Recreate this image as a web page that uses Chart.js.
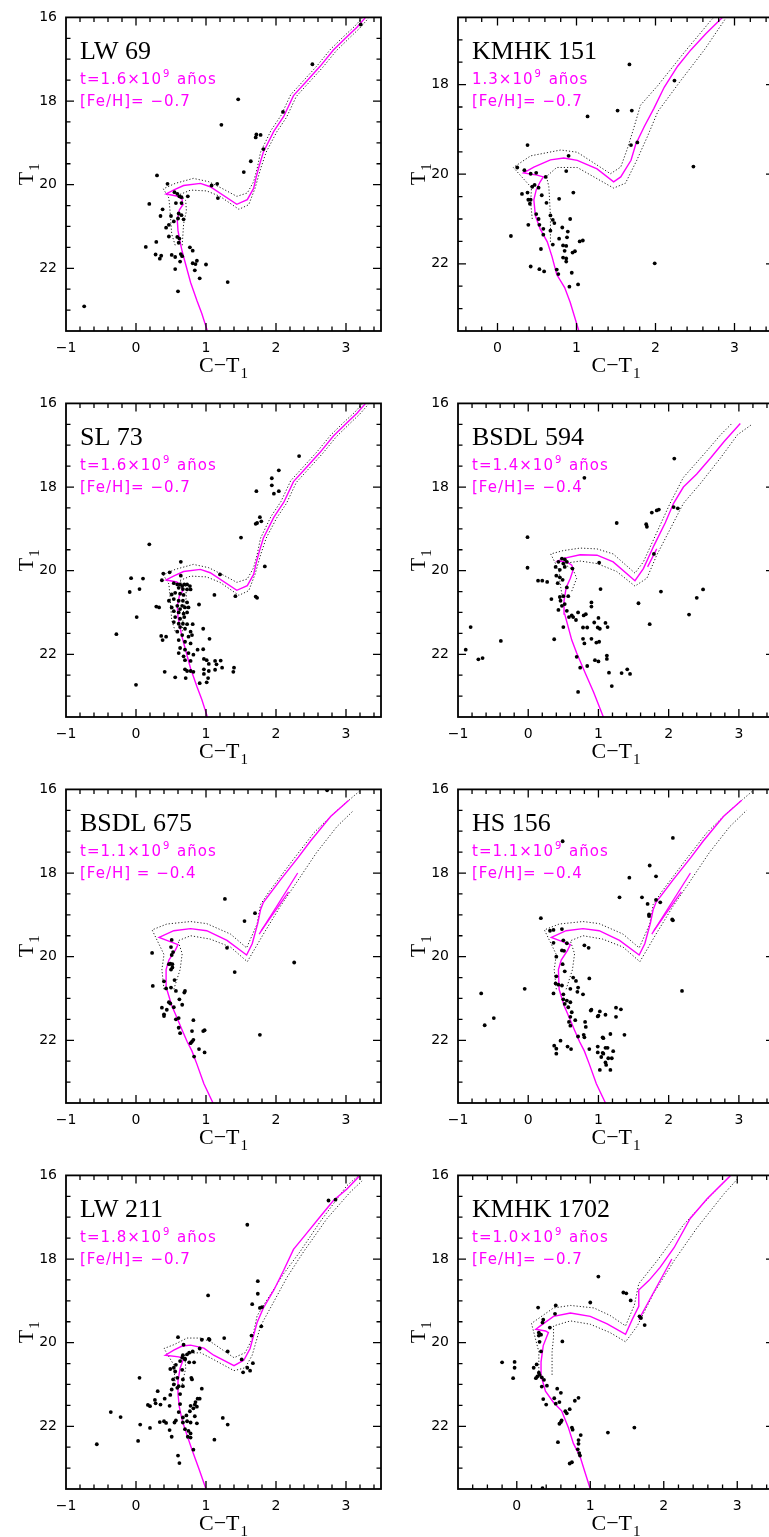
<!DOCTYPE html>
<html><head><meta charset="utf-8">
<script src="https://cdn.jsdelivr.net/npm/chart.js@4.4.1/dist/chart.umd.min.js"></script>
<style>
html,body{margin:0;padding:0;background:#fff;overflow:hidden;width:769px;height:1537px;position:relative}
canvas{position:absolute}
</style></head><body>
<script>
// ---------- observed stars (C-T1, T1) ----------
const lw69Stars = [[3.21,16.17],[2.52,17.12],[1.46,17.96],[2.10,18.26],[1.22,18.57],[1.72,18.80],[1.78,18.81],[1.71,18.87],[1.82,19.15],[1.64,19.44],[1.54,19.70],[0.30,19.78],[1.16,19.98],[1.08,20.02],[1.17,20.32],[0.45,19.98],[0.19,20.46],[0.55,20.18],[0.59,20.22],[0.62,20.28],[0.65,20.30],[0.74,20.28],[0.57,20.44],[0.65,20.44],[0.38,20.59],[0.50,20.75],[0.35,20.75],[0.61,20.69],[0.65,20.73],[0.60,20.81],[0.68,20.83],[0.54,20.88],[0.47,20.96],[0.43,21.03],[0.47,21.24],[0.59,21.25],[0.62,21.29],[0.61,21.39],[0.29,21.37],[0.14,21.49],[0.77,21.50],[0.81,21.58],[0.28,21.67],[0.36,21.70],[0.34,21.77],[0.51,21.68],[0.56,21.73],[0.64,21.66],[0.66,21.71],[0.63,21.84],[0.81,21.88],[0.85,21.90],[0.87,21.82],[1.00,21.91],[0.56,22.02],[0.84,22.05],[0.91,22.24],[1.31,22.33],[0.60,22.55],[-0.74,22.91]];
const kmhk151Stars = [[1.67,17.55],[2.24,17.91],[1.14,18.71],[1.52,18.58],[1.70,18.58],[0.38,19.35],[1.69,19.35],[1.77,19.29],[0.90,19.59],[2.48,19.83],[0.25,19.85],[0.34,19.91],[0.87,19.93],[0.42,19.99],[0.49,19.97],[0.61,20.06],[0.44,20.28],[0.47,20.24],[0.52,20.30],[0.31,20.44],[0.38,20.41],[0.96,20.41],[0.39,20.57],[0.42,20.57],[0.56,20.47],[0.41,20.66],[0.62,20.64],[0.78,20.55],[0.49,20.89],[0.52,21.00],[0.67,20.92],[0.70,21.02],[0.72,21.09],[0.92,21.00],[0.39,21.13],[0.53,21.13],[0.58,21.22],[0.67,21.26],[0.82,21.19],[0.89,21.28],[0.17,21.38],[0.58,21.35],[0.78,21.44],[0.88,21.41],[0.70,21.57],[0.83,21.59],[0.87,21.60],[1.04,21.50],[1.08,21.48],[0.55,21.67],[0.85,21.71],[0.95,21.75],[0.98,21.72],[0.83,21.86],[0.87,21.88],[0.87,21.95],[1.99,21.99],[0.42,22.06],[0.53,22.12],[0.59,22.17],[0.75,22.13],[0.77,22.23],[0.94,22.20],[0.91,22.51],[1.02,22.46]];
const sl73Stars = [[2.33,17.26],[2.04,17.60],[1.94,17.79],[1.94,17.96],[1.97,18.16],[2.04,18.10],[1.72,18.10],[1.77,18.72],[1.79,18.82],[1.73,18.86],[1.71,18.88],[1.50,19.21],[0.19,19.37],[1.84,19.90],[0.64,19.79],[0.39,20.07],[0.48,20.04],[0.64,20.12],[1.20,20.09],[-0.07,20.18],[0.10,20.19],[0.37,20.23],[-0.09,20.51],[0.05,20.44],[1.12,20.58],[1.42,20.61],[1.71,20.62],[1.73,20.65],[0.54,20.30],[0.59,20.33],[0.63,20.33],[0.66,20.37],[0.69,20.33],[0.73,20.33],[0.77,20.37],[0.61,20.41],[0.67,20.44],[0.73,20.45],[0.78,20.45],[0.51,20.57],[0.56,20.53],[0.63,20.55],[0.68,20.58],[0.47,20.72],[0.54,20.68],[0.61,20.72],[0.67,20.72],[0.73,20.76],[0.66,20.84],[0.59,20.84],[0.51,20.88],[0.63,20.92],[0.70,20.88],[0.75,20.88],[0.54,20.97],[0.61,21.00],[0.68,21.03],[0.73,21.00],[0.90,20.81],[0.29,20.86],[0.33,20.88],[0.01,21.11],[0.56,21.11],[0.63,21.15],[0.69,21.11],[0.54,21.23],[0.61,21.27],[0.67,21.27],[0.73,21.28],[0.81,21.28],[0.63,21.35],[0.70,21.39],[0.59,21.46],[0.78,21.46],[0.96,21.39],[0.36,21.56],[0.43,21.58],[0.38,21.66],[0.66,21.54],[0.75,21.58],[0.80,21.54],[0.61,21.66],[0.70,21.70],[0.78,21.74],[1.05,21.63],[-0.28,21.52],[0.63,21.85],[0.70,21.89],[0.75,21.97],[0.82,22.01],[0.88,21.89],[0.96,21.88],[0.61,21.97],[0.68,22.05],[0.70,22.14],[0.78,22.16],[0.97,22.11],[1.01,22.14],[1.04,22.23],[1.13,22.16],[1.21,22.15],[1.15,22.24],[1.23,22.32],[0.70,22.36],[0.73,22.40],[0.78,22.40],[0.82,22.42],[0.97,22.36],[1.04,22.40],[1.13,22.37],[1.40,22.32],[1.39,22.42],[0.41,22.42],[0.56,22.55],[0.71,22.57],[0.97,22.47],[1.03,22.57],[0.91,22.69],[1.01,22.67],[0.00,22.73]];
const bsdl594Stars = [[2.08,17.32],[0.80,17.78],[1.76,18.61],[1.83,18.56],[1.86,18.54],[2.07,18.48],[2.13,18.51],[1.26,18.86],[1.68,18.89],[1.69,18.95],[-0.01,19.20],[1.79,19.60],[1.01,19.81],[-0.01,19.93],[0.48,19.71],[0.52,19.73],[0.43,19.79],[0.50,19.83],[0.55,19.79],[0.39,19.91],[0.52,19.91],[0.63,19.95],[0.45,19.98],[0.14,20.24],[0.20,20.24],[0.27,20.27],[0.40,20.12],[0.45,20.16],[0.49,20.22],[0.42,20.30],[1.03,20.44],[1.89,20.50],[2.49,20.45],[2.40,20.65],[0.55,20.40],[0.33,20.68],[0.45,20.63],[0.50,20.61],[0.57,20.61],[0.46,20.72],[0.52,20.80],[0.48,20.84],[0.43,20.94],[0.55,20.96],[0.62,21.07],[0.64,21.11],[0.58,21.11],[0.90,20.76],[0.90,20.86],[0.71,21.00],[0.79,21.07],[0.82,21.04],[0.68,21.18],[1.57,20.78],[2.29,21.05],[1.00,21.13],[0.94,21.24],[1.10,21.25],[1.13,21.35],[0.99,21.36],[1.02,21.39],[1.73,21.28],[0.50,21.35],[0.78,21.36],[0.84,21.36],[0.37,21.64],[0.78,21.63],[0.80,21.74],[0.90,21.63],[0.97,21.72],[1.01,21.70],[-0.39,21.68],[-0.82,21.35],[-0.89,21.89],[-0.71,22.12],[-0.65,22.09],[0.69,22.06],[0.74,22.32],[0.84,22.28],[0.95,22.14],[1.00,22.17],[1.12,22.03],[1.12,22.11],[1.15,22.44],[1.33,22.45],[1.41,22.36],[1.45,22.47],[1.19,22.76],[0.71,22.90]];
const bsdl675Stars = [[2.73,16.02],[1.27,18.62],[1.70,18.96],[1.55,19.15],[0.23,19.91],[1.30,19.79],[0.51,19.60],[0.50,19.77],[0.53,19.89],[0.51,19.96],[0.49,20.17],[0.47,20.18],[0.52,20.18],[0.50,20.31],[0.52,20.26],[1.41,20.37],[2.26,20.14],[0.24,20.70],[0.40,20.59],[0.55,20.56],[0.43,20.76],[0.50,20.74],[0.57,20.82],[0.70,20.82],[0.69,20.86],[0.62,21.02],[0.66,21.15],[0.47,21.09],[0.49,21.12],[0.37,21.22],[0.44,21.27],[0.40,21.38],[0.40,21.42],[0.54,21.21],[0.57,21.50],[0.61,21.47],[0.82,21.52],[0.61,21.70],[0.63,21.83],[0.80,21.78],[0.96,21.78],[0.98,21.76],[1.77,21.87],[0.78,22.07],[0.80,22.03],[0.82,21.99],[0.90,22.21],[0.98,22.29],[0.83,22.39]];
const hs156Stars = [[0.49,17.24],[2.06,17.16],[1.73,17.82],[1.44,18.11],[1.82,18.08],[1.30,18.58],[1.62,18.58],[1.82,18.64],[1.70,18.74],[1.88,18.70],[1.72,18.99],[1.72,19.03],[0.18,19.08],[2.05,19.11],[2.06,19.13],[0.31,19.38],[0.36,19.36],[0.48,19.34],[0.36,19.67],[0.80,19.73],[0.86,19.79],[0.50,19.61],[0.55,19.68],[0.48,19.85],[0.51,19.86],[0.40,20.00],[0.49,20.18],[0.52,20.35],[0.40,20.47],[0.39,20.64],[0.43,20.67],[0.48,20.69],[0.36,20.88],[0.50,20.90],[0.64,20.50],[0.68,20.58],[0.60,20.77],[0.71,20.74],[0.70,20.84],[0.78,20.90],[0.87,20.52],[-0.05,20.77],[-0.67,20.88],[-0.49,21.47],[-0.62,21.64],[2.19,20.82],[0.50,21.02],[0.55,21.05],[0.60,21.09],[0.52,21.13],[0.57,21.21],[0.62,21.33],[0.60,21.44],[0.58,21.56],[0.60,21.65],[0.67,21.52],[0.81,21.56],[0.82,21.68],[0.71,21.91],[0.79,21.87],[0.80,21.93],[0.90,21.27],[0.89,21.29],[1.02,21.31],[1.00,21.41],[0.99,21.43],[1.10,21.39],[1.25,21.22],[1.32,21.26],[1.25,21.44],[1.37,21.87],[1.06,21.93],[1.07,21.95],[1.17,21.85],[0.46,22.01],[0.37,22.13],[0.40,22.20],[0.40,22.32],[0.56,22.15],[0.61,22.21],[0.87,22.21],[0.99,22.15],[0.99,22.29],[1.06,22.30],[1.07,22.32],[1.10,22.18],[1.13,22.18],[1.04,22.40],[1.14,22.43],[1.19,22.43],[1.21,22.26],[1.10,22.53],[1.11,22.59],[1.02,22.71],[1.17,22.71]];
const lw211Stars = [[2.75,16.60],[2.85,16.58],[1.59,17.18],[1.74,18.53],[1.74,18.83],[1.03,18.87],[1.66,19.08],[1.77,19.17],[1.80,19.15],[1.79,19.61],[1.65,19.83],[0.60,19.87],[0.94,19.93],[1.04,19.91],[1.05,19.93],[1.26,19.89],[0.68,20.05],[1.31,20.21],[0.81,20.21],[0.76,20.24],[0.91,20.14],[0.67,20.30],[0.73,20.28],[0.66,20.36],[0.70,20.38],[0.63,20.44],[0.70,20.40],[0.76,20.47],[0.83,20.47],[0.57,20.53],[0.54,20.60],[0.49,20.63],[0.56,20.69],[0.66,20.65],[1.51,20.40],[1.53,20.71],[1.59,20.60],[1.63,20.67],[1.67,20.49],[0.05,20.84],[0.53,20.88],[0.59,20.84],[0.67,20.88],[0.54,21.00],[0.61,21.04],[0.67,21.04],[0.51,21.12],[0.59,21.08],[0.79,20.84],[0.80,20.88],[0.94,21.10],[0.31,21.16],[0.49,21.25],[0.63,21.23],[0.27,21.37],[0.41,21.34],[0.28,21.45],[0.17,21.49],[0.20,21.52],[0.35,21.48],[0.48,21.51],[0.63,21.47],[0.78,21.51],[0.84,21.48],[0.82,21.57],[0.88,21.34],[0.91,21.34],[0.85,21.42],[0.87,21.53],[0.77,21.64],[0.72,21.74],[0.61,21.66],[0.67,21.79],[0.84,21.76],[-0.36,21.66],[-0.22,21.78],[1.24,21.80],[1.31,21.96],[0.34,21.90],[0.40,21.88],[0.43,21.92],[0.55,21.91],[0.57,21.86],[0.67,21.91],[0.73,21.88],[0.78,21.91],[0.87,21.93],[0.06,21.96],[0.20,22.04],[0.48,22.09],[0.70,22.07],[0.75,22.11],[0.78,22.17],[0.51,22.25],[0.74,22.25],[0.78,22.27],[0.03,22.35],[1.12,22.32],[-0.56,22.43],[0.82,22.56],[0.60,22.70],[0.62,22.88]];
const kmhk1702Stars = [[1.11,18.42],[1.45,18.80],[1.49,18.82],[1.55,18.99],[1.00,19.04],[0.53,19.11],[0.29,19.16],[0.52,19.31],[1.67,19.37],[1.69,19.41],[0.36,19.45],[0.35,19.52],[1.74,19.58],[0.45,19.64],[0.30,19.76],[0.33,19.81],[0.30,19.83],[0.62,19.97],[0.31,19.98],[0.33,20.21],[-0.20,20.47],[-0.03,20.46],[-0.03,20.60],[-0.05,20.85],[0.23,20.60],[0.27,20.52],[0.30,20.72],[0.31,20.77],[0.28,20.81],[0.26,20.85],[0.34,20.83],[0.37,20.89],[0.41,21.03],[0.34,21.05],[0.55,21.10],[0.60,21.20],[0.51,21.33],[0.36,21.35],[0.40,21.48],[0.53,21.46],[0.58,21.42],[0.84,21.32],[0.79,21.39],[0.66,21.64],[0.68,21.69],[0.72,21.59],[0.58,21.94],[0.60,21.90],[0.61,21.86],[0.75,22.03],[0.76,22.08],[0.87,22.21],[0.84,22.33],[0.84,22.42],[0.83,22.55],[0.85,22.64],[0.86,22.70],[0.56,22.38],[1.24,22.15],[1.60,22.03],[0.72,22.89],[0.75,22.86],[0.35,23.48]];

// ---------- isochrones (magenta) and their dotted envelopes ----------
const iso16 = [[1.02,23.5],[0.94,23.08],[0.87,22.77],[0.78,22.34],[0.71,21.91],[0.66,21.6],[0.63,21.37],[0.60,21.1],[0.59,20.85],[0.62,20.6],[0.67,20.48],[0.66,20.35],[0.58,20.27],[0.43,20.22],[0.55,20.12],[0.68,20.02],[0.92,19.97],[1.06,20.05],[1.44,20.47],[1.59,20.36],[1.68,20.09],[1.72,19.8],[1.76,19.55],[1.82,19.22],[1.97,18.72],[2.11,18.37],[2.25,17.87],[2.44,17.52],[2.63,17.17],[2.82,16.78],[3.01,16.47],[3.16,16.23],[3.28,16.0]];
const envUp16 = [[0.56,21.45],[0.51,21.18],[0.49,20.71],[0.47,20.32],[0.39,20.10],[0.56,19.97],[0.82,19.85],[1.04,19.93],[1.23,20.09],[1.44,20.28],[1.59,20.20],[1.68,19.93],[1.73,19.62],[1.78,19.22],[1.93,18.70],[2.07,18.35],[2.21,17.85],[2.40,17.50],[2.59,17.15],[2.78,16.76],[2.97,16.45],[3.12,16.22],[3.24,16.0]];
const envLo16 = [[0.66,21.45],[0.68,20.94],[0.72,20.63],[0.71,20.38],[0.62,20.24],[0.78,20.13],[1.01,20.15],[1.20,20.28],[1.47,20.59],[1.61,20.48],[1.70,20.09],[1.78,19.62],[1.86,19.22],[2.01,18.74],[2.15,18.39],[2.29,17.89],[2.48,17.54],[2.67,17.19],[2.86,16.80],[3.05,16.49],[3.20,16.25],[3.32,16.02]];
const iso13 = [[1.03,23.5],[0.92,22.86],[0.85,22.53],[0.75,22.24],[0.69,21.84],[0.63,21.51],[0.54,21.22],[0.48,20.93],[0.46,20.57],[0.49,20.35],[0.54,20.17],[0.58,20.06],[0.50,20.02],[0.33,19.97],[0.46,19.84],[0.67,19.68],[0.84,19.64],[1.01,19.69],[1.26,19.88],[1.47,20.17],[1.56,20.06],[1.69,19.69],[1.75,19.33],[1.86,18.93],[1.98,18.53],[2.11,18.06],[2.28,17.59],[2.45,17.22],[2.64,16.86],[2.83,16.53],[2.92,16.38]];
const envUp13 = [[0.44,21.0],[0.42,20.64],[0.43,20.3],[0.20,19.85],[0.42,19.59],[0.80,19.46],[1.01,19.51],[1.43,19.99],[1.56,19.84],[1.64,19.45],[1.72,19.0],[1.81,18.46],[2.03,18.02],[2.36,17.29],[2.70,16.57],[2.75,16.48]];
const envLo13 = [[0.67,21.51],[0.67,20.93],[0.65,20.28],[0.62,20.05],[0.75,19.85],[1.01,19.85],[1.47,20.31],[1.62,20.20],[1.76,19.7],[1.90,19.15],[2.03,18.60],[2.32,17.91],[2.62,17.22],[2.87,16.57],[2.90,16.48]];
const iso14 = [[1.07,23.5],[0.93,22.90],[0.81,22.44],[0.69,21.97],[0.62,21.66],[0.57,21.35],[0.52,21.04],[0.51,20.72],[0.54,20.41],[0.60,20.18],[0.64,19.98],[0.62,19.87],[0.55,19.79],[0.42,19.77],[0.52,19.70],[0.74,19.62],[0.98,19.63],[1.21,19.79],[1.52,20.24],[1.64,19.95],[1.79,19.40],[1.95,18.86],[2.07,18.39],[2.21,18.0],[2.40,17.69],[2.60,17.30],[2.79,16.91],[3.02,16.48]];
const clump14 = [[1.70,19.91],[1.83,19.48]];
const envUp14 = [[0.48,20.57],[0.45,20.26],[0.44,20.0],[0.32,19.60],[0.50,19.52],[0.74,19.46],[0.98,19.48],[1.21,19.60],[1.52,20.06],[1.64,19.79],[1.83,19.09],[2.02,18.39],[2.21,17.77],[2.50,17.22],[2.74,16.75],[2.90,16.48]];
const envLo14 = [[0.62,20.49],[0.69,20.18],[0.64,19.98],[0.50,19.83],[0.74,19.77],[0.98,19.83],[1.26,20.02],[1.52,20.37],[1.69,20.18],[1.83,19.63],[2.02,19.01],[2.21,18.39],[2.45,17.92],[2.74,17.30],[2.98,16.75],[3.17,16.52]];
const iso11 = [[1.10,23.5],[0.97,23.04],[0.87,22.57],[0.80,22.26],[0.73,22.03],[0.66,21.76],[0.59,21.48],[0.51,21.17],[0.44,20.78],[0.43,20.31],[0.47,20.08],[0.56,19.85],[0.60,19.71],[0.44,19.61],[0.33,19.54],[0.54,19.38],[0.78,19.33],[1.01,19.38],[1.30,19.61],[1.58,19.96],[1.66,19.69],[1.74,19.20],[1.78,18.87],[1.82,18.70],[2.06,18.17],[2.32,17.62],[2.49,17.24],[2.78,16.65],[3.04,16.26]];
const clump11a = [[1.76,19.46],[2.31,18.0]];
const clump11b = [[1.79,19.38],[2.18,18.45]];
const envUp11 = [[0.40,20.78],[0.37,20.31],[0.40,19.95],[0.23,19.36],[0.44,19.22],[0.78,19.16],[1.01,19.21],[1.35,19.46],[1.58,19.79],[1.73,19.22],[1.78,18.75],[1.90,18.45],[2.25,17.67],[2.54,17.04],[2.82,16.58],[3.20,16.03]];
const envLo11 = [[0.54,20.78],[0.63,20.31],[0.66,19.93],[0.60,19.62],[0.78,19.50],[1.06,19.58],[1.35,19.77],[1.59,20.12],[1.82,19.46],[2.06,18.80],[2.30,18.21],[2.58,17.51],[2.87,16.89],[3.11,16.50]];
const iso18 = [[1.0,23.5],[0.90,23.02],[0.80,22.56],[0.72,22.17],[0.66,21.86],[0.62,21.55],[0.60,21.23],[0.60,20.92],[0.63,20.61],[0.68,20.38],[0.61,20.34],[0.42,20.30],[0.54,20.18],[0.66,20.08],[0.78,20.06],[0.97,20.13],[1.11,20.30],[1.40,20.55],[1.54,20.42],[1.63,20.14],[1.73,19.52],[1.82,19.17],[1.97,18.74],[2.11,18.27],[2.25,17.77],[2.44,17.38],[2.63,16.99],[2.82,16.60],[3.01,16.33],[3.20,16.0]];
const envUp18 = [[0.56,21.0],[0.54,20.53],[0.40,20.14],[0.54,20.05],[0.73,19.89],[0.92,19.89],[1.06,19.97],[1.40,20.36],[1.56,20.24],[1.66,19.91],[1.73,19.36],[1.87,18.98],[2.11,18.35],[2.35,17.81],[2.63,17.11],[3.01,16.25],[3.18,16.0]];
const envLo18 = [[0.66,21.0],[0.71,20.61],[0.70,20.34],[0.73,20.26],[0.92,20.24],[1.06,20.36],[1.40,20.67],[1.56,20.60],[1.66,20.30],[1.78,19.60],[1.92,19.17],[2.16,18.43],[2.40,17.81],[2.73,17.03],[3.06,16.40],[3.23,16.13]];
const iso10 = [[1.0,23.5],[0.93,23.11],[0.86,22.72],[0.77,22.41],[0.70,22.02],[0.61,21.63],[0.50,21.43],[0.39,21.16],[0.34,20.85],[0.33,20.46],[0.36,20.07],[0.43,19.76],[0.39,19.72],[0.26,19.68],[0.32,19.60],[0.50,19.37],[0.73,19.29],[1.0,19.37],[1.23,19.55],[1.48,19.80],[1.57,19.45],[1.66,19.13],[1.66,18.74],[1.80,18.51],[1.95,18.20],[2.14,17.73],[2.36,17.03],[2.59,16.56],[2.91,16.0]];
const clump10 = [[1.66,19.45],[2.11,18.0]];
const envUp10 = [[0.30,20.69],[0.30,20.22],[0.20,19.54],[0.50,19.17],[0.73,19.11],[1.05,19.17],[1.27,19.35],[1.48,19.60],[1.60,19.10],[1.66,18.59],[1.91,18.04],[2.27,17.18],[2.64,16.48],[2.91,16.0]];
const envLo10 = [[0.48,20.77],[0.48,20.22],[0.50,19.87],[0.50,19.60],[0.73,19.48],[1.0,19.56],[1.27,19.76],[1.48,19.98],[1.64,19.60],[1.86,18.82],[2.14,18.04],[2.45,17.26],[2.82,16.44],[3.0,16.09]];

// ---------- labels ----------
const clusterNames = ['LW 69','KMHK 151','SL 73','BSDL 594','BSDL 675','HS 156','LW 211','KMHK 1702'];
const ageLabels = ['t=1.6×10^9 años','1.3×10^9 años','t=1.6×10^9 años','t=1.4×10^9 años','t=1.1×10^9 años','t=1.1×10^9 años','t=1.8×10^9 años','t=1.0×10^9 años'];
const fehLabels = ['[Fe/H]= −0.7','[Fe/H]= −0.7','[Fe/H]= −0.7','[Fe/H]= −0.4','[Fe/H] = −0.4','[Fe/H]= −0.4','[Fe/H]= −0.7','[Fe/H]= −0.7'];
const xRanges = [[-1,3.5],[-0.5,3.5],[-1,3.5],[-1,3.5],[-1,3.5],[-1,3.5],[-1,3.5],[-0.8,3.5]];
const yRanges = [[16,23.5],[16.5,23.5],[16,23.5],[16,23.5],[16,23.5],[16,23.5],[16,23.5],[16,23.5]];
const starSets = [lw69Stars,kmhk151Stars,sl73Stars,bsdl594Stars,bsdl675Stars,hs156Stars,lw211Stars,kmhk1702Stars];
const isoSets = [iso16,iso13,iso16,iso14,iso11,iso11,iso18,iso10];
const upSets = [envUp16,envUp13,envUp16,envUp14,envUp11,envUp11,envUp18,envUp10];
const loSets = [envLo16,envLo13,envLo16,envLo14,envLo11,envLo11,envLo18,envLo10];
const extraSets = [[],[],[],[clump14],[clump11a,clump11b],[clump11a,clump11b],[],[clump10]];
const X_STEP = 0.2, Y_STEP = 0.5;

// ---------- layout ----------
const PLOT_TOPS = [10,396,782,1168];
const MAGENTA = '#ff00ff';

const isInt = v => Math.abs(v - Math.round(v)) < 1e-6;
const isEvenInt = v => isInt(v) && Math.round(v) % 2 === 0;
const fmtX = v => { const r = Math.round(v); return r < 0 ? '\u2212' + Math.abs(r) : String(r); };
const pts = arr => arr.map(([x,y]) => ({x,y}));
const stepTicks = step => s => {
  const out = [];
  const k0 = Math.ceil(s.min / step - 1e-6), k1 = Math.floor(s.max / step + 1e-6);
  for (let k = k0; k <= k1; k++) out.push({value: +(k * step).toFixed(4)});
  s.ticks = out;
};

function drawSub(ctx, main, sub, x, y, bigFont, smallFont) {
  ctx.font = bigFont; const w1 = ctx.measureText(main).width;
  ctx.font = smallFont; const w2 = ctx.measureText(sub).width;
  const sx = x - (w1 + w2 + 1) / 2;
  ctx.font = bigFont; ctx.fillText(main, sx, y);
  ctx.font = smallFont; ctx.fillText(sub, sx + w1 + 1, y + 6);
}

const framePlugin = {
  id: 'frame',
  afterDatasetsDraw(chart) {
    const {ctx, chartArea: a, scales: {x, y}} = chart;
    const idx = chart.options.plugins.frame.idx;
    ctx.save();
    ctx.strokeStyle = '#000';
    ctx.lineWidth = 1.3;
    ctx.beginPath();
    x.ticks.forEach(t => {
      const px = x.getPixelForValue(t.value);
      if (px < a.left + 1 || px > a.right - 1) return;
      const L = isInt(t.value) ? 8 : 4.5;
      ctx.moveTo(px, a.bottom); ctx.lineTo(px, a.bottom - L);
      ctx.moveTo(px, a.top); ctx.lineTo(px, a.top + L);
    });
    y.ticks.forEach(t => {
      const py = y.getPixelForValue(t.value);
      if (py < a.top + 1 || py > a.bottom - 1) return;
      const L = isEvenInt(t.value) ? 8 : 4.5;
      ctx.moveTo(a.left, py); ctx.lineTo(a.left + L, py);
      ctx.moveTo(a.right, py); ctx.lineTo(a.right - L, py);
    });
    ctx.stroke();
    ctx.lineWidth = 1.8;
    ctx.strokeRect(a.left, a.top, a.right - a.left, a.bottom - a.top);

    ctx.fillStyle = '#000';
    ctx.textBaseline = 'alphabetic';
    ctx.textAlign = 'left';
    ctx.font = '26px "Liberation Serif"';
    ctx.fillText(clusterNames[idx], a.left + 14, a.top + 42);

    ctx.fillStyle = MAGENTA;
    try { ctx.letterSpacing = '1px'; } catch (e) {}
    const [pre, post] = ageLabels[idx].split('^');
    let tx = a.left + 14;
    ctx.font = '15px "DejaVu Sans"';
    ctx.fillText(pre, tx, a.top + 67);
    tx += ctx.measureText(pre).width + 1;
    ctx.font = '10px "DejaVu Sans"';
    ctx.fillText(post[0], tx, a.top + 60);
    tx += ctx.measureText(post[0]).width + 1;
    ctx.font = '15px "DejaVu Sans"';
    ctx.fillText(post.slice(1), tx, a.top + 67);
    ctx.fillText(fehLabels[idx], a.left + 14, a.top + 89);
    try { ctx.letterSpacing = '0px'; } catch (e) {}

    ctx.fillStyle = '#000';
    drawSub(ctx, 'C\u2212T', '1', (a.left + a.right) / 2, a.bottom + 41, '22px "Liberation Serif"', '15px "Liberation Serif"');
    ctx.save();
    ctx.translate(a.left - 33, (a.top + a.bottom) / 2);
    ctx.rotate(-Math.PI / 2);
    drawSub(ctx, 'T', '1', 0, 0, '22px "Liberation Serif"', '15px "Liberation Serif"');
    ctx.restore();
    ctx.restore();
  }
};

for (let i = 0; i < 8; i++) {
  const col = i % 2, row = Math.floor(i / 2);
  const cv = document.createElement('canvas');
  cv.width = 390; cv.height = 385;
  cv.style.left = (col * 390) + 'px';
  cv.style.top = (PLOT_TOPS[row] - 10) + 'px';
  cv.style.width = '390px'; cv.style.height = '385px';
  document.body.appendChild(cv);
  const plotLeft = col === 0 ? 66 : 68;
  const rightPad = col === 0 ? 9 : 6;

  const datasets = [
    {data: pts(starSets[i]), showLine: false, pointRadius: 1.9, pointHoverRadius: 1.9,
     pointBackgroundColor: '#000', pointBorderWidth: 0, borderColor: '#000'}
  ];
  extraSets[i].forEach(seg => datasets.push({data: pts(seg), showLine: true, borderColor: MAGENTA,
     borderWidth: 1.3, pointRadius: 0, fill: false}));
  datasets.push({data: pts(isoSets[i]), showLine: true, borderColor: MAGENTA, borderWidth: 1.4,
     pointRadius: 0, fill: false});
  datasets.push({data: pts(upSets[i]), showLine: true, borderColor: '#222', borderWidth: 1,
     borderDash: [1.2, 2], pointRadius: 0, fill: false});
  datasets.push({data: pts(loSets[i]), showLine: true, borderColor: '#222', borderWidth: 1,
     borderDash: [1.2, 2], pointRadius: 0, fill: false});

  new Chart(cv, {
    type: 'scatter',
    data: {datasets},
    plugins: [framePlugin],
    options: {
      responsive: false, animation: false, devicePixelRatio: 1,
      layout: {padding: {top: 10, left: 0, right: rightPad, bottom: 0}},
      plugins: {legend: {display: false}, tooltip: {enabled: false}, frame: {idx: i}},
      events: [],
      scales: {
        x: {
          type: 'linear', min: xRanges[i][0], max: xRanges[i][1],
          grid: {display: false, drawTicks: false}, border: {display: false},
          afterBuildTicks: stepTicks(X_STEP),
          ticks: {autoSkip: false, maxRotation: 0, padding: 9,
                  color: '#000', font: {family: 'DejaVu Sans', size: 14},
                  callback: v => isInt(v) ? fmtX(v) : ''},
          afterFit: s => { s.height = 54; }
        },
        y: {
          type: 'linear', reverse: true, min: yRanges[i][0], max: yRanges[i][1],
          grid: {display: false, drawTicks: false}, border: {display: false},
          afterBuildTicks: stepTicks(Y_STEP),
          ticks: {autoSkip: false, padding: 9,
                  color: '#000', font: {family: 'DejaVu Sans', size: 14},
                  callback: v => isEvenInt(v) ? String(Math.round(v)) : ''},
          afterFit: s => { s.width = plotLeft; }
        }
      }
    }
  });
}
</script>
</body></html>
